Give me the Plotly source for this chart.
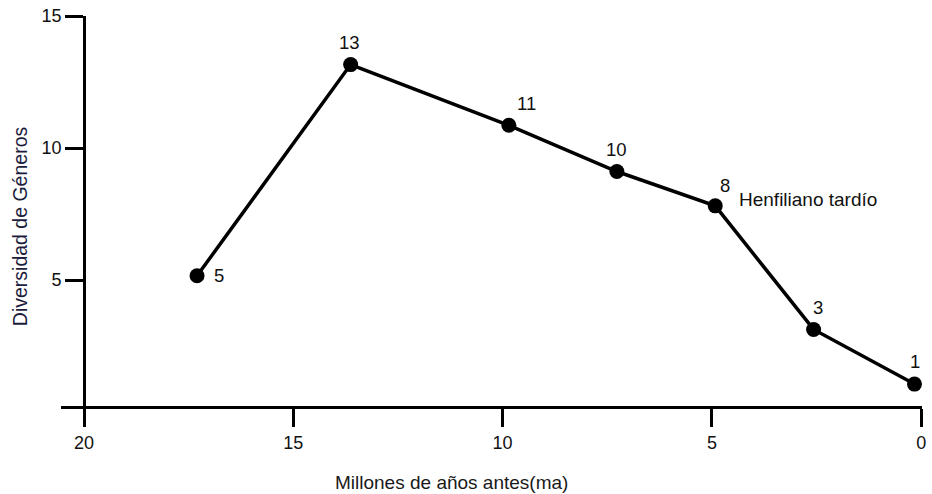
import plotly.graph_objects as go

# Data
ma = [17.3, 13.63, 9.85, 7.27, 4.92, 2.57, 0.16]          # millones de años antes
diversidad = [5.16, 13.16, 10.86, 9.11, 7.81, 3.13, 1.06]  # plotted position
etiquetas = ["5", "13", "11", "10", "8", "3", "1"]
x_ticks = [20, 15, 10, 5, 0]
y_ticks = [5, 10, 15]
nota = "Henfiliano tardío"
nota_idx = 4

# label offsets (pixels): style only
dx = [22, -1, 18, 0, 10, 4, 1]
dy = [0, 22, 22, 22, 20, 22, 23]

FONT = "Liberation Sans, Arial, sans-serif"

fig = go.Figure()
fig.add_trace(go.Scatter(
    x=ma, y=diversidad, mode="lines+markers",
    line=dict(color="black", width=3.5),
    marker=dict(color="black", size=15),
    hoverinfo="skip", showlegend=False,
))

annotations = []
for xv, yv, t, ox, oy in zip(ma, diversidad, etiquetas, dx, dy):
    annotations.append(dict(x=xv, y=yv, xref="x", yref="y", text=t,
                            showarrow=False, xshift=ox, yshift=oy,
                            font=dict(family=FONT, size=18.5, color="#111")))
annotations.append(dict(x=ma[nota_idx], y=diversidad[nota_idx], xref="x", yref="y",
                        text=nota, showarrow=False, xanchor="left",
                        xshift=22, yshift=6,
                        font=dict(family=FONT, size=19, color="#111")))
annotations.append(dict(x=(453 - 61) / 865, y=-(482 - 406) / 390, xref="paper", yref="paper",
                        text="Millones de años antes(ma)", showarrow=False,
                        xanchor="center", yanchor="middle",
                        font=dict(family=FONT, size=19, color="#1a1a1a")))
annotations.append(dict(x=(20 - 61) / 865, y=(406 - 226) / 390, xref="paper", yref="paper",
                        text="Diversidad de Géneros", showarrow=False, textangle=-90,
                        xanchor="center", yanchor="middle",
                        font=dict(family=FONT, size=19.5, color="#1c1c3c")))

x_lo, x_hi = 20.55, -0.02
fig.update_layout(
    width=932, height=494,
    margin=dict(l=61, r=6, t=16, b=88),
    paper_bgcolor="white", plot_bgcolor="white",
    annotations=annotations,
    xaxis=dict(range=[x_lo, x_hi], tickvals=x_ticks, ticktext=[str(v) for v in x_ticks],
               showline=True, linecolor="black", linewidth=3,
               ticks="outside", ticklen=18, tickwidth=3, tickcolor="black",
               showgrid=False, zeroline=False,
               tickfont=dict(family=FONT, size=18, color="#111")),
    yaxis=dict(range=[0.23, 15], tickvals=y_ticks, ticktext=[str(v) for v in y_ticks],
               anchor="free", position=(x_lo - 20) / (x_lo - x_hi),
               showline=True, linecolor="black", linewidth=3,
               ticks="outside", ticklen=18, tickwidth=3, tickcolor="black",
               showgrid=False, zeroline=False,
               tickfont=dict(family=FONT, size=18, color="#111")),
)

fig.write_html("out.html", config={"displayModeBar": False, "staticPlot": True},
               post_script="document.body.style.margin='0';document.body.style.overflow='hidden';")
